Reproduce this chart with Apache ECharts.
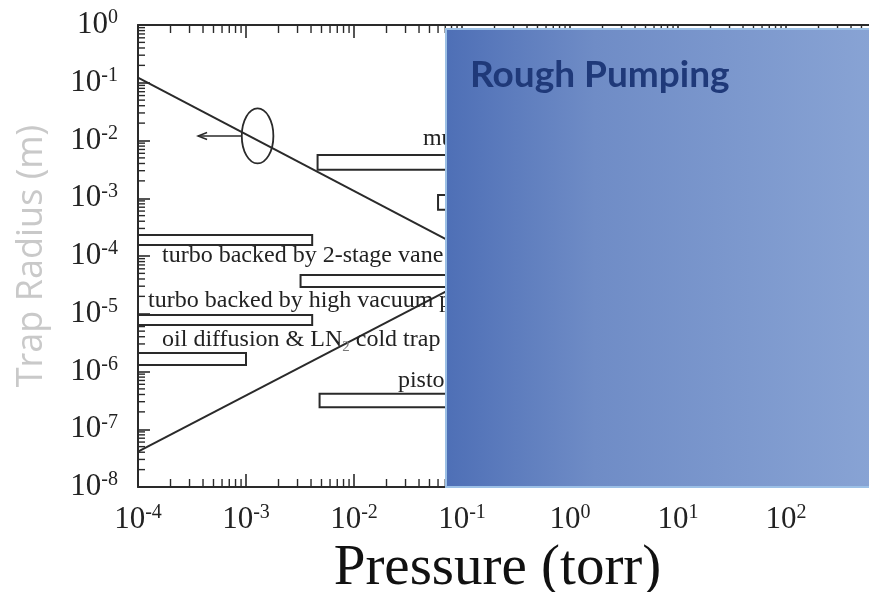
<!DOCTYPE html>
<html>
<head>
<meta charset="utf-8">
<script src="https://cdn.jsdelivr.net/npm/echarts@6/dist/echarts.min.js"></script>
<style>
  html, body { margin: 0; padding: 0; background: #fff; }
  #chart { width: 869px; height: 592px; }
</style>
</head>
<body>
<div id="chart"></div>
<script>
const SERIF = "'Liberation Serif', 'Times New Roman', serif";

// axis ranges
const pressureRange = [1e-4, 1e3];
const radiusRange = [1e-8, 1];

// straight lines on the log-log plot, two endpoints each: [pressure, radius]
const upperLine = [[1e-4, 0.123], [0.1, 1.4e-4]];
const lowerLine = [[1e-4, 4.1e-8], [0.1, 3.4e-5]];

// pump operating boxes: [p start, p end, r low, r high]
const pumpBoxes = [
  [4.6e-3, 20, 3.1e-3, 5.6e-3],
  [0.06, 10, 6.3e-4, 1.14e-3],
  [1e-4, 4.1e-3, 1.55e-4, 2.3e-4],
  [3.2e-3, 10, 2.9e-5, 4.7e-5],
  [1e-4, 4.1e-3, 6.4e-6, 9.5e-6],
  [1e-4, 1e-3, 1.3e-6, 2.1e-6],
  [4.8e-3, 20, 2.4e-7, 4.1e-7]
];

// pump labels and where their baseline starts: [pressure, radius]
const pumpNames = [
  'multi-stage roots pump',
  'turbo backed by 2-stage vane pump',
  'turbo backed by high vacuum pump',
  'oil diffusion & LN{sub|2} cold trap',
  'piston pump'
];
const pumpLabelPos = [
  [0.0435, 7.7e-3],
  [1.67e-4, 7.3e-5],
  [1.24e-4, 1.22e-5],
  [1.67e-4, 2.6e-6],
  [0.0255, 5.1e-7]
];

// ellipse marking the upper line, arrow pointing to the left axis
const ellipseCenter = [1.28e-3, 1.2e-2];
const arrowTip = [3.6e-4, 1.2e-2];

const xDecades = [-4, -3, -2, -1, 0, 1, 2];
const yDecades = [-8, -7, -6, -5, -4, -3, -2, -1];

// minor ticks at 2..9 of each decade
const xMinor = [];
xDecades.forEach((e) => { for (let k = 2; k <= 9; k++) xMinor.push([k * Math.pow(10, e), 1e-4]); });
const yMinor = [];
yDecades.forEach((e) => { for (let k = 2; k <= 9; k++) yMinor.push([1e-3, k * Math.pow(10, e)]); });

function powLabel(v) {
  const e = Math.round(Math.log10(v));
  return '{b|10}{s|' + e + '}';
}

const labelRich = {
  b: { fontFamily: SERIF, fontSize: 31, lineHeight: 34, color: '#222' },
  s: { fontFamily: SERIF, fontSize: 20, lineHeight: 24, color: '#222', verticalAlign: 'top' }
};

const INK = '#2a2a2a';

const chart = echarts.init(document.getElementById('chart'), null, { renderer: 'canvas' });

chart.setOption({
  animation: false,
  backgroundColor: '#fff',
  grid: { left: 138, top: 25, width: 756, height: 462, containLabel: false, outerBoundsMode: 'none' },
  xAxis: [
    {
      type: 'log', min: pressureRange[0], max: pressureRange[1], splitNumber: 10,
      position: 'bottom',
      axisLine: { show: true, lineStyle: { color: INK, width: 2 } },
      axisTick: { show: true, inside: true, length: 13, lineStyle: { color: INK, width: 1.6 } },
      splitLine: { show: false },
      axisLabel: { margin: 16, formatter: powLabel, rich: labelRich },
      name: 'Pressure (torr)', nameLocation: 'middle', nameGap: 50,
      nameTextStyle: { fontFamily: SERIF, fontSize: 57, color: '#111', padding: [0, 37, 0, 0] }
    },
    {
      type: 'log', min: pressureRange[0], max: pressureRange[1], splitNumber: 10,
      position: 'top',
      axisLine: { show: true, lineStyle: { color: INK, width: 2 } },
      axisTick: { show: true, inside: true, length: 13, lineStyle: { color: INK, width: 1.6 } },
      splitLine: { show: false },
      axisLabel: { show: false }
    }
  ],
  yAxis: [
    {
      type: 'log', min: radiusRange[0], max: radiusRange[1], splitNumber: 10,
      position: 'left',
      axisLine: { show: true, lineStyle: { color: INK, width: 2 } },
      axisTick: { show: true, inside: true, length: 12, lineStyle: { color: INK, width: 1.6 } },
      splitLine: { show: false },
      axisLabel: { margin: 20, formatter: powLabel, rich: labelRich },
      name: 'Trap Radius (m)', nameLocation: 'middle', nameRotate: 90, nameGap: 88,
      nameTextStyle: { fontFamily: "'Open Sans', sans-serif", fontSize: 36, color: '#c9c9c9' }
    },
    {
      type: 'log', min: radiusRange[0], max: radiusRange[1], splitNumber: 10,
      position: 'right',
      axisLine: { show: true, lineStyle: { color: INK, width: 2 } },
      axisTick: { show: true, inside: true, length: 12 },
      splitLine: { show: false },
      axisLabel: { show: false }
    }
  ],
  series: [
    {
      name: 'xMinor', type: 'custom', silent: true, xAxisIndex: 0, yAxisIndex: 0,
      data: xMinor,
      renderItem: (params, api) => {
        const cs = params.coordSys;
        const x = api.coord([api.value(0), api.value(1)])[0];
        const bottom = cs.y + cs.height;
        return {
          type: 'group',
          children: [
            { type: 'line', shape: { x1: x, y1: bottom, x2: x, y2: bottom - 8 }, style: { stroke: INK, lineWidth: 1.4 } },
            { type: 'line', shape: { x1: x, y1: cs.y, x2: x, y2: cs.y + 8 }, style: { stroke: INK, lineWidth: 1.4 } }
          ]
        };
      }
    },
    {
      name: 'yMinor', type: 'custom', silent: true, xAxisIndex: 0, yAxisIndex: 0,
      data: yMinor,
      renderItem: (params, api) => {
        const cs = params.coordSys;
        const y = api.coord([api.value(0), api.value(1)])[1];
        return {
          type: 'line',
          shape: { x1: cs.x, y1: y, x2: cs.x + 7, y2: y },
          style: { stroke: INK, lineWidth: 1.4 }
        };
      }
    },
    {
      name: 'boxes', type: 'custom', silent: true,
      data: pumpBoxes,
      encode: { x: [0, 1], y: [2, 3] },
      renderItem: (params, api) => {
        const a = api.coord([api.value(0), api.value(3)]);
        const b = api.coord([api.value(1), api.value(2)]);
        return {
          type: 'rect',
          shape: { x: a[0], y: a[1], width: b[0] - a[0], height: b[1] - a[1] },
          style: { fill: '#fff', stroke: INK, lineWidth: 2 }
        };
      }
    },
    {
      name: 'upper', type: 'line', data: upperLine, showSymbol: false, silent: true,
      lineStyle: { color: INK, width: 2 }, z: 3
    },
    {
      name: 'lower', type: 'line', data: lowerLine, showSymbol: false, silent: true,
      lineStyle: { color: INK, width: 2 }, z: 3
    },
    {
      name: 'labels', type: 'custom', silent: true, z: 4,
      data: pumpLabelPos.map((p, i) => [p[0], p[1], i]),
      renderItem: (params, api) => {
        const pt = api.coord([api.value(0), api.value(1)]);
        const fs = 24;
        return {
          type: 'text',
          x: pt[0], y: pt[1] - 0.3375 * fs,
          style: {
            text: pumpNames[api.value(2)],
            fontFamily: SERIF, fontSize: fs, fill: '#222',
            align: 'left', verticalAlign: 'middle',
            rich: {
              sub: { fontFamily: SERIF, fontSize: 15, fill: '#777', padding: [16, 0, 0, 0] }
            }
          }
        };
      }
    },
    {
      name: 'marker', type: 'custom', silent: true, z: 4,
      data: [[ellipseCenter[0], ellipseCenter[1], arrowTip[0]]],
      renderItem: (params, api) => {
        const c = api.coord([api.value(0), api.value(1)]);
        const tip = api.coord([api.value(2), api.value(1)]);
        const rx = 15.8, ry = 27.5;
        return {
          type: 'group',
          children: [
            { type: 'ellipse', shape: { cx: c[0], cy: c[1], rx: rx, ry: ry }, style: { fill: 'none', stroke: INK, lineWidth: 1.8 } },
            { type: 'line', shape: { x1: c[0] - rx, y1: c[1], x2: tip[0], y2: c[1] }, style: { stroke: INK, lineWidth: 1.5 } },
            { type: 'polyline', shape: { points: [[tip[0] + 9, c[1] - 3.5], [tip[0], c[1]], [tip[0] + 9, c[1] + 3.5]] }, style: { fill: 'none', stroke: INK, lineWidth: 1.5 } }
          ]
        };
      }
    }
  ],
  graphic: [
    {
      type: 'rect', z: 100,
      shape: { x: 446, y: 29, width: 424, height: 458 },
      style: {
        fill: new echarts.graphic.LinearGradient(0, 0, 1, 0, [
          { offset: 0, color: '#4e6fb6' },
          { offset: 0.35, color: '#6f8cc6' },
          { offset: 1, color: '#88a3d4' }
        ]),
        stroke: '#9cc0e6', lineWidth: 2
      }
    },
    {
      type: 'text', z: 101, x: 470, y: 75,
      style: {
        text: 'Rough Pumping',
        fontFamily: 'Lato, sans-serif', fontWeight: 'bold', fontSize: 37,
        fill: '#1f3979', align: 'left', verticalAlign: 'middle'
      }
    }
  ]
});
</script>
</body>
</html>
